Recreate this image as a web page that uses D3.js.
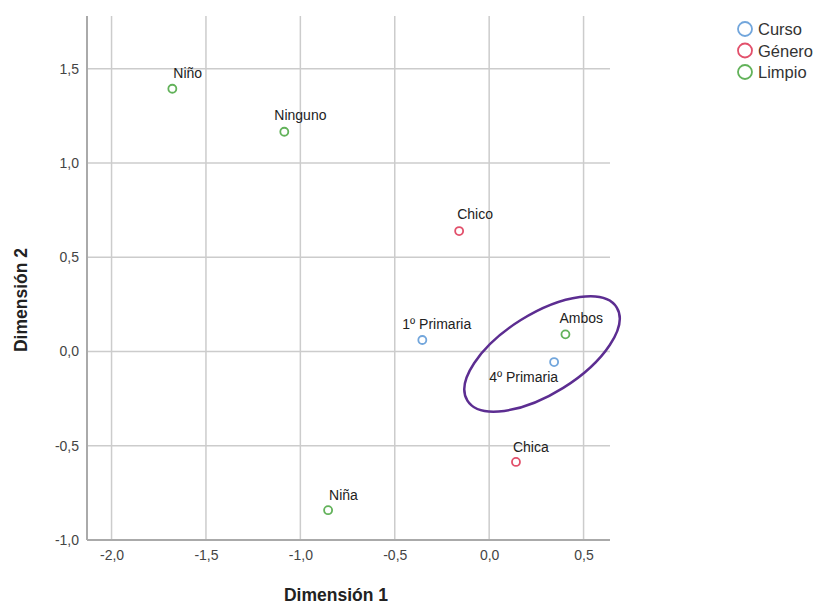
<!DOCTYPE html>
<html><head><meta charset="utf-8">
<script src="https://cdn.jsdelivr.net/npm/d3@7"></script>
<style>
html,body{margin:0;padding:0;background:#fff;}
svg{display:block;font-family:"Liberation Sans",Arial,sans-serif;}
</style></head>
<body>
<svg id="chart" width="818" height="604"></svg>
<script>
// ---- data ----
const labels = ["Niño","Ninguno","Chico","1º Primaria","Ambos","4º Primaria","Chica","Niña"];
const groups = ["Limpio","Limpio","Género","Curso","Limpio","Curso","Género","Limpio"];
const dim1 = [-1.678,-1.085,-0.159,-0.354,0.404,0.344,0.142,-0.853];
const dim2 = [1.394,1.166,0.639,0.061,0.091,-0.056,-0.586,-0.842];
const xTicks = [-2.0,-1.5,-1.0,-0.5,0.0,0.5];
const yTicks = [-1.0,-0.5,0.0,0.5,1.0,1.5];
const legendItems = ["Curso","Género","Limpio"];
// annotation ellipse centre (data units)
const ellipseCenter = [0.280,-0.013];

// ---- layout / style (not data) ----
const colors = {"Curso":"#72a6dc","Género":"#e2506b","Limpio":"#62b25a"};
const labelNudge = {
  "Niño":[1,-11,"start"],"Ninguno":[-10,-12,"start"],"Chico":[-2,-12,"start"],
  "1º Primaria":[-20,-11,"start"],"Ambos":[-6,-11,"start"],"4º Primaria":[4,20,"end"],
  "Chica":[-3,-10,"start"],"Niña":[1,-10,"start"]
};
const L=87,R=610,T=16,B=540;
const svg = d3.select("#chart");
const x = d3.scaleLinear().domain([-2.13,0.64]).range([L,R]);
const y = d3.scaleLinear().domain([-1.0,1.78]).range([B,T]);
const fmt = v => d3.format(".1f")(v).replace(".",",").replace("−","-");

// grid
svg.append("g").selectAll("line").data(xTicks).join("line")
  .attr("x1",d=>x(d)).attr("x2",d=>x(d)).attr("y1",T).attr("y2",B)
  .attr("stroke","#cccccc").attr("stroke-width",1.5);
svg.append("g").selectAll("line").data(yTicks).join("line")
  .attr("x1",L).attr("x2",R).attr("y1",d=>y(d)).attr("y2",d=>y(d))
  .attr("stroke","#cccccc").attr("stroke-width",1.5);

// axes via d3 axis
const xAxis = svg.append("g").attr("transform",`translate(0,${B})`)
  .call(d3.axisBottom(x).tickValues(xTicks).tickFormat(fmt).tickSize(0).tickPadding(10));
const yAxis = svg.append("g").attr("transform",`translate(${L},0)`)
  .call(d3.axisLeft(y).tickValues(yTicks).tickFormat(fmt).tickSize(0).tickPadding(8));
[xAxis,yAxis].forEach(g=>{
  g.select(".domain").attr("stroke","#aaaaaa").attr("stroke-width",2);
  g.selectAll("text").attr("font-size",14).attr("fill","#444")
   .attr("font-family","'Liberation Sans',Arial,sans-serif");
});
yAxis.select(".domain").attr("d",`M0,${T}V${B}`);
xAxis.select(".domain").attr("d",`M${L},0H${R}`);

// axis titles
svg.append("text").attr("x",336).attr("y",601).attr("text-anchor","middle")
  .attr("font-size",17.5).attr("font-weight","bold").attr("fill","#222").text("Dimensión 1");
svg.append("text").attr("transform","translate(27,300) rotate(-90)").attr("text-anchor","middle")
  .attr("font-size",17.5).attr("font-weight","bold").attr("fill","#222").text("Dimensión 2");

// points
const pts = labels.map((l,i)=>({l,g:groups[i],x:dim1[i],y:dim2[i]}));
svg.append("g").selectAll("circle").data(pts).join("circle")
  .attr("cx",d=>x(d.x)).attr("cy",d=>y(d.y)).attr("r",4)
  .attr("fill","none").attr("stroke",d=>colors[d.g]).attr("stroke-width",1.8);
svg.append("g").selectAll("text").data(pts).join("text")
  .attr("x",d=>x(d.x)+labelNudge[d.l][0]).attr("y",d=>y(d.y)+labelNudge[d.l][1])
  .attr("text-anchor",d=>labelNudge[d.l][2])
  .attr("font-size",14).attr("fill","#222").text(d=>d.l);

// annotation ellipse
svg.append("ellipse")
  .attr("transform",`translate(${x(ellipseCenter[0])},${y(ellipseCenter[1])}) rotate(-32)`)
  .attr("rx",88).attr("ry",40).attr("fill","none")
  .attr("stroke","#5c2d91").attr("stroke-width",2.5);

// legend
const lg = svg.append("g").selectAll("g").data(legendItems).join("g")
  .attr("transform",(d,i)=>`translate(745,${29+i*21.5})`);
lg.append("circle").attr("r",7).attr("fill","none")
  .attr("stroke",d=>colors[d]).attr("stroke-width",1.8);
lg.append("text").attr("x",13).attr("y",6).attr("font-size",16.5).attr("fill","#333").text(d=>d);
</script>
</body></html>
